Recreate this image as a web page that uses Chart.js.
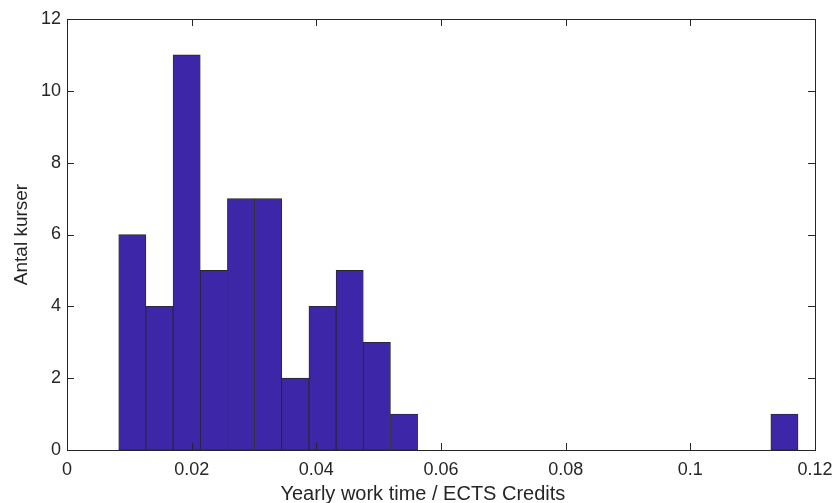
<!DOCTYPE html>
<html>
<head>
<meta charset="utf-8">
<script src="https://cdn.jsdelivr.net/npm/chart.js@4.4.1/dist/chart.umd.min.js"></script>
<style>
  html, body { margin: 0; padding: 0; background: #fff; }
  #wrap { width: 834px; height: 503px; }
</style>
</head>
<body>
<div id="wrap"><canvas id="chart" width="834" height="503"></canvas></div>
<script>
// histogram bins (edges)
const binStart = 0.0083;
const binWidth = 0.004359;
const counts = [6, 4, 11, 5, 7, 7, 2, 4, 5, 3, 1, 0, 0, 0, 0, 0, 0, 0, 0, 0, 0, 0, 0, 0, 1];
const xTickLabels = ['0', '0.02', '0.04', '0.06', '0.08', '0.1', '0.12'];
const yTickLabels = ['0', '2', '4', '6', '8', '10', '12'];
const xLabel = 'Yearly work time / ECTS Credits';
const yLabel = 'Antal kurser';

const axisColor = '#262626';
const barColor = 'rgb(62, 38, 168)';
const fontFamily = 'Liberation Sans, Arial, Helvetica, sans-serif';

const points = counts.map((c, i) => ({ x: binStart + binWidth * (i + 0.5), y: c }));

// box + inward ticks like matlab, and the x label (sits a bit left of centre in the original)
const boxPlugin = {
  id: 'boxPlugin',
  afterDatasetsDraw(chart) {
    const { ctx, chartArea: a, scales } = chart;
    const len = 7;
    ctx.save();
    ctx.strokeStyle = axisColor;
    ctx.lineWidth = 1;
    ctx.beginPath();
    scales.x.ticks.forEach(t => {
      const px = Math.round(scales.x.getPixelForValue(t.value)) + 0.5;
      ctx.moveTo(px, a.bottom); ctx.lineTo(px, a.bottom - len);
      ctx.moveTo(px, a.top); ctx.lineTo(px, a.top + len);
    });
    scales.y.ticks.forEach(t => {
      const py = Math.round(scales.y.getPixelForValue(t.value)) + 0.5;
      ctx.moveTo(a.left, py); ctx.lineTo(a.left + len, py);
      ctx.moveTo(a.right, py); ctx.lineTo(a.right - len, py);
    });
    ctx.stroke();
    ctx.strokeRect(Math.round(a.left) + 0.5, Math.round(a.top) + 0.5,
      Math.round(a.right - a.left), Math.round(a.bottom - a.top));

    ctx.fillStyle = axisColor;
    ctx.font = '20px ' + fontFamily;
    ctx.textAlign = 'center';
    ctx.textBaseline = 'alphabetic';
    ctx.fillText(xLabel, scales.x.getPixelForValue(0.0571), 500);
    ctx.restore();
  }
};

new Chart(document.getElementById('chart'), {
  type: 'bar',
  data: {
    datasets: [{
      data: points,
      backgroundColor: barColor,
      borderColor: axisColor,
      borderWidth: 0.8,
      borderSkipped: false,
      barPercentage: 1,
      categoryPercentage: 1
    }]
  },
  options: {
    responsive: false,
    animation: false,
    layout: { padding: { left: 10, top: 19, right: 19, bottom: 0 } },
    plugins: { legend: { display: false }, tooltip: { enabled: false } },
    scales: {
      x: {
        type: 'linear',
        offset: false,
        min: 0,
        max: 0.12,
        afterFit: s => { s.height = 53; s.paddingLeft = 0; s.paddingRight = 0; },
        afterBuildTicks: s => { s.ticks = xTickLabels.map(v => ({ value: parseFloat(v) })); },
        grid: { display: false, drawTicks: false },
        border: { display: false },
        ticks: {
          padding: 9,
          color: axisColor,
          font: { family: fontFamily, size: 18 },
          maxRotation: 0,
          autoSkip: false,
          callback: (v, i) => xTickLabels[i]
        }
      },
      y: {
        min: 0,
        max: 12,
        afterFit: s => { s.width = 57; s.paddingTop = 0; s.paddingBottom = 0; },
        afterBuildTicks: s => { s.ticks = yTickLabels.map(v => ({ value: parseFloat(v) })); },
        grid: { display: false, drawTicks: false },
        border: { display: false },
        ticks: {
          padding: 6,
          color: axisColor,
          font: { family: fontFamily, size: 18 },
          callback: (v, i) => yTickLabels[i]
        },
        title: {
          display: true,
          text: yLabel,
          color: axisColor,
          padding: 0,
          font: { family: fontFamily, size: 19 }
        }
      }
    }
  },
  plugins: [boxPlugin]
});
</script>
</body>
</html>
